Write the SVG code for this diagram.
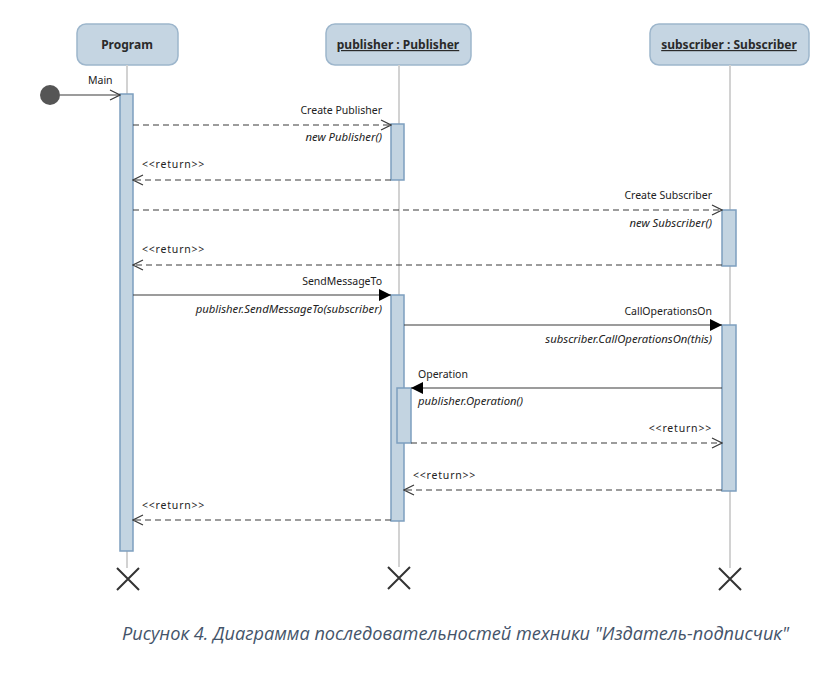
<svg xmlns="http://www.w3.org/2000/svg" width="840" height="677" viewBox="0 0 840 677">
<defs>
<style>
.head{fill:#c5d5e2;stroke:#9db6cc;stroke-width:1.5}
.ht{font-family:"Noto Sans","DejaVu Sans",sans-serif;font-size:12px;font-weight:bold;fill:#2a2a2a;text-anchor:middle}
.life{stroke:#d2d2d2;stroke-width:2}
.act{fill:#c3d4e1;stroke:#7d9fbf;stroke-width:1.5}
.msg{stroke:#3a3a3a;stroke-width:1.2;fill:none}
.dash{stroke:#3a3a3a;stroke-width:1.2;fill:none;stroke-dasharray:6,4}
.lbl{font-family:"Noto Sans","DejaVu Sans",sans-serif;font-size:10.5px;fill:#222}
.ret{font-family:"Noto Sans","DejaVu Sans",sans-serif;font-size:10.5px;fill:#222;letter-spacing:0.8px}
.it{font-family:"Noto Sans","DejaVu Sans",sans-serif;font-size:11.3px;font-style:italic;fill:#222}
.x{stroke:#333;stroke-width:2}
.cap{font-family:"Open Sans","Noto Sans",sans-serif;font-size:17.5px;font-style:italic;fill:#44546a}
</style>
<marker id="open" markerWidth="12" markerHeight="12" refX="11" refY="6" orient="auto" markerUnits="userSpaceOnUse">
<path d="M1,1 L11,6 L1,11" fill="none" stroke="#3a3a3a" stroke-width="1.2"/>
</marker>
<marker id="fill" markerWidth="14" markerHeight="14" refX="12" refY="7" orient="auto" markerUnits="userSpaceOnUse">
<path d="M0,1 L12,7 L0,13 Z" fill="#000"/>
</marker>
</defs>
<rect width="840" height="677" fill="#fff"/>

<g id="program">
<rect class="head" x="77" y="24" width="101" height="41" rx="9"/>
<text class="ht" x="127" y="49">Program</text>
<line class="life" x1="127" y1="65" x2="127" y2="568"/>
<rect class="act" x="120" y="94" width="13" height="457"/>
<path class="x" d="M117,568 L139,590 M139,568 L117,590"/>
</g>

<g id="publisher">
<rect class="head" x="326" y="24" width="145" height="41" rx="9"/>
<text class="ht" x="398" y="49" text-decoration="underline">publisher : Publisher</text>
<line class="life" x1="399" y1="65" x2="399" y2="567"/>
<rect class="act" x="391" y="124" width="13" height="56"/>
<rect class="act" x="391" y="295" width="13" height="226"/>
<rect class="act" x="397" y="388" width="14" height="55"/>
<path class="x" d="M388,567 L410,589 M410,567 L388,589"/>
</g>

<g id="subscriber">
<rect class="head" x="650" y="24" width="159" height="41" rx="9"/>
<text class="ht" x="729" y="49" text-decoration="underline">subscriber : Subscriber</text>
<line class="life" x1="730" y1="65" x2="730" y2="568"/>
<rect class="act" x="722" y="210" width="14" height="56"/>
<rect class="act" x="722" y="325" width="14" height="166"/>
<path class="x" d="M719,568 L741,590 M741,568 L719,590"/>
</g>

<g id="start">
<circle cx="50" cy="95" r="10" fill="#555"/>
</g>

<g id="connectors">
<line class="msg" x1="60" y1="95" x2="120" y2="95" marker-end="url(#open)"/>
<text class="lbl" x="88" y="84">Main</text>

<line class="dash" x1="133" y1="125" x2="391" y2="125" marker-end="url(#open)"/>
<text class="lbl" x="382" y="114" text-anchor="end">Create Publisher</text>
<text class="it" x="382" y="141" text-anchor="end">new Publisher()</text>

<line class="dash" x1="391" y1="180" x2="133" y2="180" marker-end="url(#open)"/>
<text class="ret" x="142" y="168">&lt;&lt;return&gt;&gt;</text>

<line class="dash" x1="133" y1="210" x2="722" y2="210" marker-end="url(#open)"/>
<text class="lbl" x="712" y="199" text-anchor="end">Create Subscriber</text>
<text class="it" x="712" y="227" text-anchor="end">new Subscriber()</text>

<line class="dash" x1="722" y1="265" x2="133" y2="265" marker-end="url(#open)"/>
<text class="ret" x="142" y="253">&lt;&lt;return&gt;&gt;</text>

<line class="msg" x1="133" y1="295" x2="391" y2="295" marker-end="url(#fill)"/>
<text class="lbl" x="382" y="285" text-anchor="end">SendMessageTo</text>
<text class="it" x="382" y="313" text-anchor="end">publisher.SendMessageTo(subscriber)</text>

<line class="msg" x1="404" y1="325" x2="722" y2="325" marker-end="url(#fill)"/>
<text class="lbl" x="712" y="315" text-anchor="end">CallOperationsOn</text>
<text class="it" x="712" y="343" text-anchor="end">subscriber.CallOperationsOn(this)</text>

<line class="msg" x1="722" y1="388" x2="411" y2="388" marker-end="url(#fill)"/>
<text class="lbl" x="418" y="378">Operation</text>
<text class="it" x="418" y="405">publisher.Operation()</text>

<line class="dash" x1="411" y1="443" x2="722" y2="443" marker-end="url(#open)"/>
<text class="ret" x="712" y="432" text-anchor="end">&lt;&lt;return&gt;&gt;</text>

<line class="dash" x1="722" y1="490" x2="404" y2="490" marker-end="url(#open)"/>
<text class="ret" x="413" y="479">&lt;&lt;return&gt;&gt;</text>

<line class="dash" x1="391" y1="520" x2="133" y2="520" marker-end="url(#open)"/>
<text class="ret" x="142" y="509">&lt;&lt;return&gt;&gt;</text>
</g>

<text class="cap" x="122" y="640" textLength="667" lengthAdjust="spacingAndGlyphs">Рисунок 4. Диаграмма последовательностей техники "Издатель-подписчик"</text>
</svg>
